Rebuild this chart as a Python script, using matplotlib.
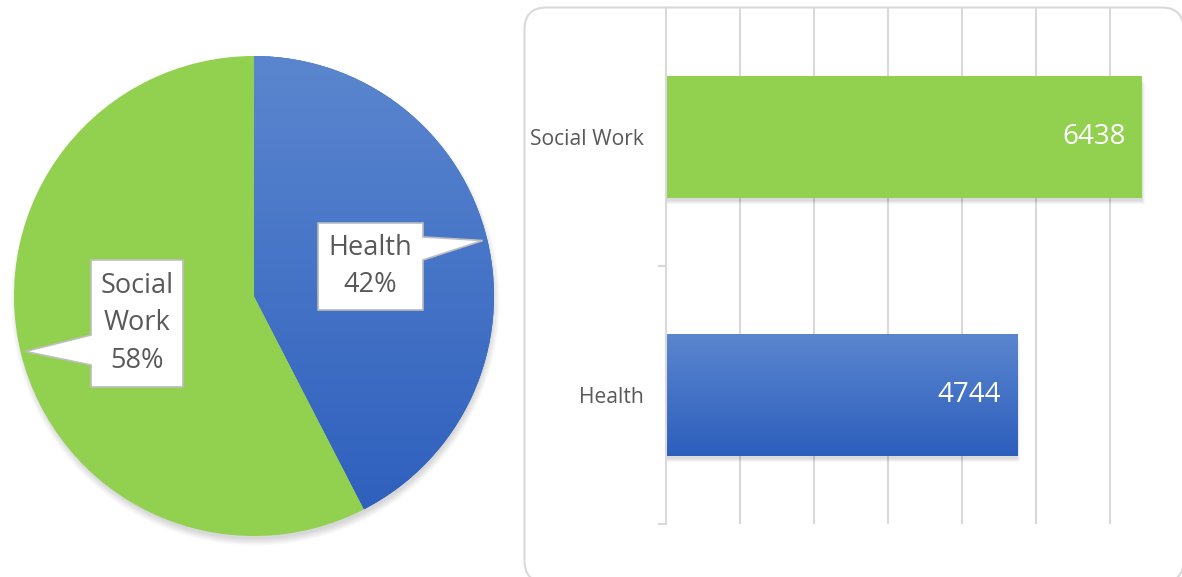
import numpy as np
import matplotlib
matplotlib.use('Agg')
import matplotlib.pyplot as plt
from matplotlib.patches import FancyBboxPatch, Polygon, Circle, Rectangle
from matplotlib.colors import LinearSegmentedColormap

plt.rcParams['font.family'] = ['Open Sans', 'DejaVu Sans']

# data
categories = ['Health', 'Social Work']
counts = [4744, 6438]

GREEN = '#92D050'
BLUE_TOP, BLUE_BOT = '#5B86CF', '#2C5EBC'
GRID = '#D9D9D9'
TEXT = '#595959'

W, H = 1182, 577
fig = plt.figure(figsize=(W / 100, H / 100), dpi=100)


def px_axes(x0, y0, x1, y1):
    """axes from image pixel box (y measured from top)"""
    return fig.add_axes([x0 / W, 1 - y1 / H, (x1 - x0) / W, (y1 - y0) / H])


def gradient_fill(ax, patch, top, bottom, extent):
    cmap = LinearSegmentedColormap.from_list('g', [top, bottom])
    grad = np.linspace(0, 1, 256).reshape(-1, 1)
    im = ax.imshow(grad, cmap=cmap, extent=extent, aspect='auto',
                   origin='upper', zorder=patch.get_zorder() + 0.1)
    im.set_clip_path(patch)


# background panel with rounded border round the bar chart
bg = fig.add_axes([0, 0, 1, 1], zorder=0)
bg.set_xlim(0, W)
bg.set_ylim(H, 0)
bg.axis('off')
bg.add_patch(FancyBboxPatch((524.5, 7.5), 659, 575,
                            boxstyle='round,pad=0,rounding_size=22',
                            fc='white', ec=GRID, lw=1.5))

# ---- pie ----
pax = px_axes(254 - 264, 296 - 264, 254 + 264, 296 + 264)
pax.set_zorder(2)
total = sum(counts)
# soft shadow, mostly below
for i in range(8):
    pax.add_patch(Circle((0.006, -0.022), 0.99 + 0.004 * i, fc='black',
                         alpha=0.018, lw=0, zorder=0))
wedges, _ = pax.pie(counts, colors=[BLUE_BOT, GREEN], startangle=90,
                    counterclock=False, radius=1.0,
                    wedgeprops=dict(linewidth=0))
for w in wedges:
    w.set_zorder(1)
gradient_fill(pax, wedges[0], BLUE_TOP, BLUE_BOT, (-1, 1, -1, 1))
pax.set_xlim(-1.1, 1.1)
pax.set_ylim(-1.1, 1.1)
pax.axis('off')

# callouts: box (x0, x1, y0, y1), pointer side, pointer base (ylo, yhi)
boxes = {
    'Health': ((0.267, 0.704, -0.058, 0.304), 'right', (0.15, 0.246)),
    'Social Work': ((-0.679, -0.296, -0.379, 0.15), 'left', (-0.2875, -0.1625)),
}
for w, name, n in zip(wedges, categories, counts):
    (x0, x1, y0, y1), side, (b0, b1) = boxes[name]
    mid = np.deg2rad((w.theta1 + w.theta2) / 2)
    tip = (0.98 * np.cos(mid), 0.98 * np.sin(mid))
    if side == 'right':
        pts = [(x0, y0), (x1, y0), (x1, b0), tip, (x1, b1), (x1, y1), (x0, y1)]
    else:
        pts = [(x0, y0), (x1, y0), (x1, y1), (x0, y1), (x0, b1), tip, (x0, b0)]
    pax.add_patch(Polygon(pts, closed=True, fc='white', ec='#BFBFBF',
                          lw=1.2, zorder=3))
    label = name.replace(' ', '\n') + '\n' + f'{round(100 * n / total)}%'
    pax.text((x0 + x1) / 2, (y0 + y1) / 2, label, ha='center', va='center',
             multialignment='center', fontsize=19.5, color=TEXT,
             linespacing=1.45, zorder=4)

# ---- bars ----
bax = px_axes(666, 8, 1184, 524)
bax.set_zorder(2)
bax.patch.set_alpha(0)
ypos = np.arange(len(categories))
bh = 0.47
# shadows
for i in range(4):
    for y, v in zip(ypos, counts):
        bax.add_patch(Rectangle((40 + 12 * i - 60, y - bh / 2 - 0.014 - 0.004 * i),
                                v + 20, bh, fc='black', alpha=0.035, lw=0,
                                zorder=1))
bars = bax.barh(ypos, counts, height=bh, color=[BLUE_BOT, GREEN], zorder=2)
b = bars[0]
gradient_fill(bax, b, BLUE_TOP, BLUE_BOT,
              (0, counts[0], -bh / 2, bh / 2))
for y, v in zip(ypos, counts):
    bax.text(v - 220, y, str(v), ha='right', va='center', color='white',
             fontsize=20, zorder=5)

bax.set_xlim(0, 7000)
bax.set_ylim(-0.5, 1.5)
bax.set_xticks(np.arange(1000, 7001, 1000))
bax.xaxis.grid(True, color=GRID, lw=1.5)
bax.set_axisbelow(True)
bax.tick_params(axis='x', length=0, labelbottom=False)
bax.set_yticks(ypos)
bax.set_yticklabels(categories, fontsize=15.2, color=TEXT)
bax.set_yticks([-0.5, 0.5], minor=True)
bax.tick_params(axis='y', which='major', length=0, pad=16)
bax.tick_params(axis='y', which='minor', length=6, width=1.5, color=GRID)
for s in ['top', 'right', 'bottom']:
    bax.spines[s].set_visible(False)
bax.spines['left'].set_color(GRID)
bax.spines['left'].set_linewidth(1.5)

fig.savefig('out.png', dpi=100)
